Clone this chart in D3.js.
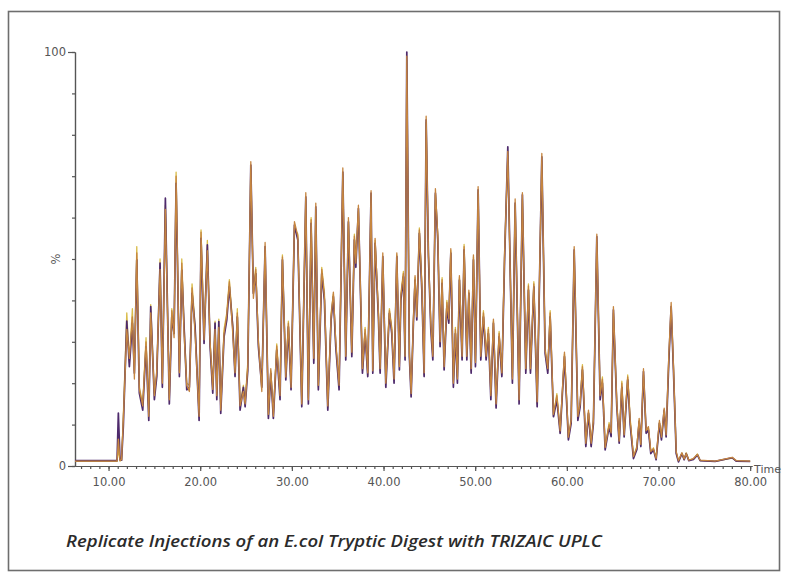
<!DOCTYPE html>
<html>
<head>
<meta charset="utf-8">
<script src="https://cdn.jsdelivr.net/npm/d3@7"></script>
<style>
  body { margin: 0; background: #fff; }
</style>
</head>
<body>
<div id="chart"></div>
<script>

// Retention time (min), shared by the three injections
var times = [
  6.34, 10.93, 11.07, 11.25, 11.42, 11.61, 11.99, 12.27, 12.60, 12.82,
  13.08, 13.36, 13.73, 14.09, 14.39, 14.60, 15.00, 15.26, 15.62, 15.87,
  16.20, 16.63, 16.90, 17.15, 17.37, 17.73, 17.99, 18.24, 18.53, 18.82,
  19.11, 19.44, 19.88, 20.09, 20.42, 20.78, 21.08, 21.37, 21.62, 21.81,
  22.03, 22.24, 22.60, 22.90, 23.18, 23.55, 23.80, 24.05, 24.35, 24.71,
  24.90, 25.19, 25.52, 25.80, 26.06, 26.35, 26.72, 27.08, 27.44, 27.70,
  27.98, 28.35, 28.71, 28.97, 29.34, 29.62, 29.91, 30.28, 30.65, 31.08,
  31.52, 31.80, 32.10, 32.39, 32.61, 32.89, 33.26, 33.55, 33.92, 34.28,
  34.53, 34.79, 35.15, 35.56, 35.88, 36.17, 36.54, 36.82, 36.98, 37.26,
  37.70, 37.99, 38.28, 38.64, 38.83, 39.08, 39.44, 39.63, 39.92, 40.25,
  40.64, 40.90, 41.15, 41.45, 41.73, 41.89, 42.17, 42.35, 42.54, 42.82,
  43.01, 43.26, 43.44, 43.63, 43.91, 44.18, 44.43, 44.65, 44.90, 45.16,
  45.38, 45.66, 45.92, 46.17, 46.39, 46.61, 46.91, 47.12, 47.34, 47.62,
  47.84, 48.06, 48.28, 48.57, 48.79, 49.09, 49.31, 49.56, 49.81, 50.03,
  50.32, 50.61, 50.90, 51.19, 51.44, 51.71, 51.99, 52.28, 52.61, 52.91,
  53.21, 53.56, 54.06, 54.36, 54.79, 55.15, 55.52, 55.81, 56.03, 56.40,
  56.76, 57.27, 57.63, 57.92, 58.18, 58.54, 58.91, 59.27, 59.74, 60.17,
  60.47, 60.80, 61.20, 61.45, 61.70, 62.07, 62.36, 62.65, 62.90, 63.27,
  63.63, 63.88, 64.18, 64.61, 64.83, 65.08, 65.45, 65.71, 66.00, 66.25,
  66.64, 66.91, 67.27, 67.64, 67.89, 68.07, 68.36, 68.65, 68.90, 69.16,
  69.45, 69.74, 70.10, 70.32, 70.62, 70.83, 71.13, 71.38, 71.63, 71.93,
  72.18, 72.55, 72.80, 73.02, 73.31, 73.81, 74.25, 74.54, 76.18, 78.04, 78.47, 80.00
]

// Relative intensity (%) per injection
var injection1 = [
  1.3, 1.3, 12.8, 1.5, 1.4, 9.5, 35, 24, 34.5, 22.4,
  49.8, 17.6, 13.5, 28.8, 11, 38.5, 16, 21.6, 49, 19,
  64.7, 15, 36, 32, 68.3, 21.6, 47.3, 33.6, 18.4, 19,
  41.7, 33.6, 11, 55, 29.6, 53.4, 28.8, 17.6, 34.5, 16,
  34.9, 12.7, 31.2, 35.3, 43.3, 33.6, 21.6, 36, 13.5, 19,
  14.3, 23, 72.7, 41.7, 46.5, 28.8, 19, 53, 11.5, 22.4,
  11.5, 28, 16, 49.8, 20.8, 33.6, 18.4, 58.2, 54.6, 14.3,
  65, 15, 58.6, 24.8, 62.6, 18.4, 46.5, 40, 13.5, 35.3,
  40.9, 28.8, 18.4, 71, 25.6, 59, 26.4, 54.6, 48, 62.2,
  22.4, 32, 21.6, 65.9, 22.4, 53.8, 36, 22.4, 50.6, 19,
  36.9, 32, 20, 50.6, 23.2, 40, 45.7, 25.6, 100, 26.4,
  16.7, 34.5, 44.9, 35.3, 56.2, 42.5, 21.6, 83.6, 50.6, 32.9,
  25.6, 65.9, 54.6, 28.8, 44.1, 23.2, 38.5, 34.5, 51.4, 19,
  32, 20, 44.9, 25.6, 52.2, 25.6, 41.7, 22.4, 49.8, 24,
  66.7, 25.6, 36, 25.6, 32, 16, 34.5, 14, 31.2, 21.6,
  50, 77.1, 20, 63.5, 15, 65.5, 22.4, 42.5, 22.4, 43.3,
  14.3, 74.7, 27.2, 22.4, 36, 11.9, 16, 7.9, 26.4, 6.3,
  10.3, 52.2, 11, 14.3, 23.2, 4.7, 12.7, 4.7, 10.3, 55.4,
  16, 20, 3.9, 9.5, 7.1, 37.7, 14.3, 5.5, 19, 7,
  20.8, 10, 1.8, 4, 10.7, 4.7, 22.8, 7.9, 8.7, 3,
  3.9, 1.5, 10.3, 6.3, 13.5, 7, 25.6, 38.5, 23.2, 3,
  1, 3, 1.5, 3, 1.3, 1.6, 2.7, 1.3, 1.1, 2, 1.2, 1.1
]

var injection2 = [
  1.2, 1.2, 6.5, 1.3, 1.5, 11, 33, 26, 36, 21,
  51.5, 18.5, 14.5, 30, 12, 37, 17, 23, 47.5, 20,
  62, 16, 37.5, 31, 70, 22.5, 49, 32, 19.5, 18,
  43, 32, 12, 56.5, 30.5, 52, 30, 18.5, 33, 17,
  33.5, 13.5, 32, 36.5, 44.5, 32, 22.5, 37, 14.5, 18,
  15, 24, 73.5, 40.5, 47.5, 30, 18, 54, 12.5, 23.5,
  12, 29, 17, 50.5, 21.5, 34.5, 19, 59, 55.5, 15,
  66, 16, 59.5, 26, 63.5, 19.5, 47.5, 41, 14.5, 36,
  42, 30, 19.5, 72, 26.5, 60, 27.5, 55.5, 49, 63,
  23.5, 33, 22.5, 66.5, 23, 55, 37, 23.5, 51.5, 20,
  37.5, 33, 21, 51.5, 24, 41, 46.5, 26.5, 99, 27.5,
  17.5, 35, 46, 36, 57, 43.5, 22.5, 84.5, 51.5, 34,
  26.5, 67, 55.5, 30, 45, 24, 39.5, 35.5, 52.5, 20,
  33, 21, 46, 26.5, 53, 26.5, 42.5, 23.5, 51, 25,
  67.5, 26.5, 37, 26.5, 33, 17, 35.5, 15, 32, 22.5,
  51, 76, 21, 64.5, 16, 66, 23.5, 43.5, 23.5, 44,
  15.5, 75.5, 28, 23.5, 37, 12.5, 17, 8.5, 27.5, 7,
  11, 53, 12, 15, 24, 5.5, 13.5, 5.5, 11, 56,
  17, 21, 4.5, 10, 8, 38.5, 15, 6, 20, 7.5,
  21.5, 11, 2.3, 4.5, 11.5, 5.2, 23.5, 8.5, 9.5, 3.5,
  4.2, 1.8, 11, 7, 14, 7.5, 27, 39.5, 24, 3.5,
  1.3, 3.2, 1.7, 3, 1.4, 1.8, 2.8, 1.4, 1.2, 2.1, 1.3, 1.2
]

var injection3 = [
  1.1, 1.1, 4, 1.2, 1.4, 12, 37, 25, 38, 23,
  53, 19, 15, 31, 13, 39, 17.5, 22, 50, 21,
  63, 16.5, 38, 33, 71, 23, 50, 34, 20, 19.5,
  44, 34, 12.5, 57, 31, 54.5, 29.5, 19, 35, 17.5,
  35.5, 14, 33, 37, 45, 34, 23, 38, 15, 19.5,
  15.5, 25, 72, 42, 48, 29.5, 19.5, 52, 12, 23,
  12.5, 29.5, 17.5, 51, 22, 35, 19.5, 57.5, 56, 15.5,
  64.5, 16.5, 60, 25.5, 62, 19, 48, 42, 14, 37,
  41.5, 29.5, 19, 70.5, 27, 58.5, 27, 56, 49.5, 61.5,
  23, 33.5, 22, 65, 23.5, 54.5, 37.5, 23, 50, 20.5,
  38, 33.5, 21.5, 51, 24.5, 41.5, 47, 27, 98, 27,
  18, 35.5, 45.5, 36.5, 57.5, 44, 22, 83, 51, 34.5,
  27, 65.5, 56, 29.5, 45.5, 24.5, 40, 35, 52, 20.5,
  33.5, 21.5, 45.5, 27, 53.5, 27, 42, 23, 50.5, 25.5,
  66, 27, 37.5, 27, 33.5, 17.5, 35, 15.5, 32.5, 22,
  52, 75, 21.5, 63, 16.5, 64.5, 23, 44, 23, 44.5,
  15, 73.5, 28.5, 23, 37.5, 12, 17.5, 8.2, 27, 6.8,
  11.5, 51.5, 11.5, 15.5, 24.5, 5.2, 13, 5, 11.5, 54,
  17.5, 21.5, 4.3, 10.5, 7.8, 37, 15.5, 6.2, 20.5, 7.8,
  22, 11.5, 2.1, 4.8, 11, 5, 22, 8.3, 9.2, 3.3,
  4.4, 1.7, 10.5, 6.8, 13, 7.8, 26, 38, 24.5, 3.3,
  1.2, 3.1, 1.6, 3.2, 1.4, 1.7, 2.9, 1.3, 1.1, 1.9, 1.3, 1.1
]

var xTickLabels = [10, 20, 30, 40, 50, 60, 70, 80]
var yTickLabels = [0, 100]
var caption = "Replicate Injections of an E.col Tryptic Digest with TRIZAIC UPLC"


// Setup

const width = 788
const height = 579

const svg = d3.select("#chart").append("svg")
  .attr("width", width)
  .attr("height", height)
  .style("font-family", "'DejaVu Sans', Verdana, sans-serif")

svg.append("rect")
  .attr("x", 8.5)
  .attr("y", 11.5)
  .attr("width", 771)
  .attr("height", 559)
  .attr("fill", "none")
  .attr("stroke", "#6e6e6e")
  .attr("stroke-width", 1.6)

const x = d3.scaleLinear().domain([6.34, 80.2]).range([75, 752])
const y = d3.scaleLinear().domain([0, 100]).range([466, 52])


// Axes

const axisColor = "#555"

var xMinor = svg.append("g")
  .attr("transform", "translate(0," + y(0) + ")")
  .call(d3.axisBottom(x)
    .tickValues(d3.range(7, 81))
    .tickSize(3)
    .tickSizeOuter(0)
    .tickFormat(""))

var xMajor = svg.append("g")
  .attr("transform", "translate(0," + y(0) + ")")
  .call(d3.axisBottom(x)
    .tickValues(xTickLabels)
    .tickSize(5)
    .tickSizeOuter(0)
    .tickPadding(7)
    .tickFormat(d3.format(".2f")))

var yMinor = svg.append("g")
  .attr("transform", "translate(" + x.range()[0] + ",0)")
  .call(d3.axisLeft(y)
    .tickValues(d3.range(0, 101, 10))
    .tickSize(3)
    .tickSizeOuter(0)
    .tickFormat(""))

var yMajor = svg.append("g")
  .attr("transform", "translate(" + x.range()[0] + ",0)")
  .call(d3.axisLeft(y)
    .tickValues(yTickLabels)
    .tickSize(7)
    .tickSizeOuter(0)
    .tickPadding(2)
    .tickFormat(d3.format("d")))

svg.selectAll(".domain, .tick line")
  .attr("stroke", axisColor)
  .attr("stroke-width", 1.2)

svg.selectAll(".tick text")
  .attr("fill", "#555")
  .style("font-size", "11.5px")
  .style("font-family", "'DejaVu Sans', Verdana, sans-serif")

svg.append("text")
  .attr("transform", "translate(" + 60 + "," + y(50) + ") rotate(-90)")
  .attr("text-anchor", "middle")
  .attr("fill", "#555")
  .style("font-size", "11.5px")
  .text("%")

svg.append("text")
  .attr("x", 754)
  .attr("y", 473)
  .attr("fill", "#555")
  .style("font-size", "11px")
  .text("Time")


// Traces

var traces = [
  { name: "inj3", values: injection3, color: "#d9bc4a", width: 1.3 },
  { name: "inj1", values: injection1, color: "#4e2a6c", width: 1.7 },
  { name: "inj2", values: injection2, color: "#c58540", width: 1.3 }
]

var line = d3.line()
  .x((d, i) => x(times[i]))
  .y(d => y(d))

svg.append("g")
  .attr("class", "traces")
  .selectAll("path")
  .data(traces)
  .join("path")
  .attr("d", d => line(d.values))
  .attr("fill", "none")
  .attr("stroke", d => d.color)
  .attr("stroke-width", d => d.width)
  .attr("stroke-linejoin", "round")


// Caption

svg.append("text")
  .attr("x", 66)
  .attr("y", 547)
  .attr("fill", "#2b2b2b")
  .attr("textLength", 536)
  .attr("lengthAdjust", "spacingAndGlyphs")
  .style("font-family", "'Open Sans', Lato, sans-serif")
  .style("font-style", "italic")
  .style("font-weight", 600)
  .style("font-size", "16.5px")
  .text(caption)

</script>
</body>
</html>
